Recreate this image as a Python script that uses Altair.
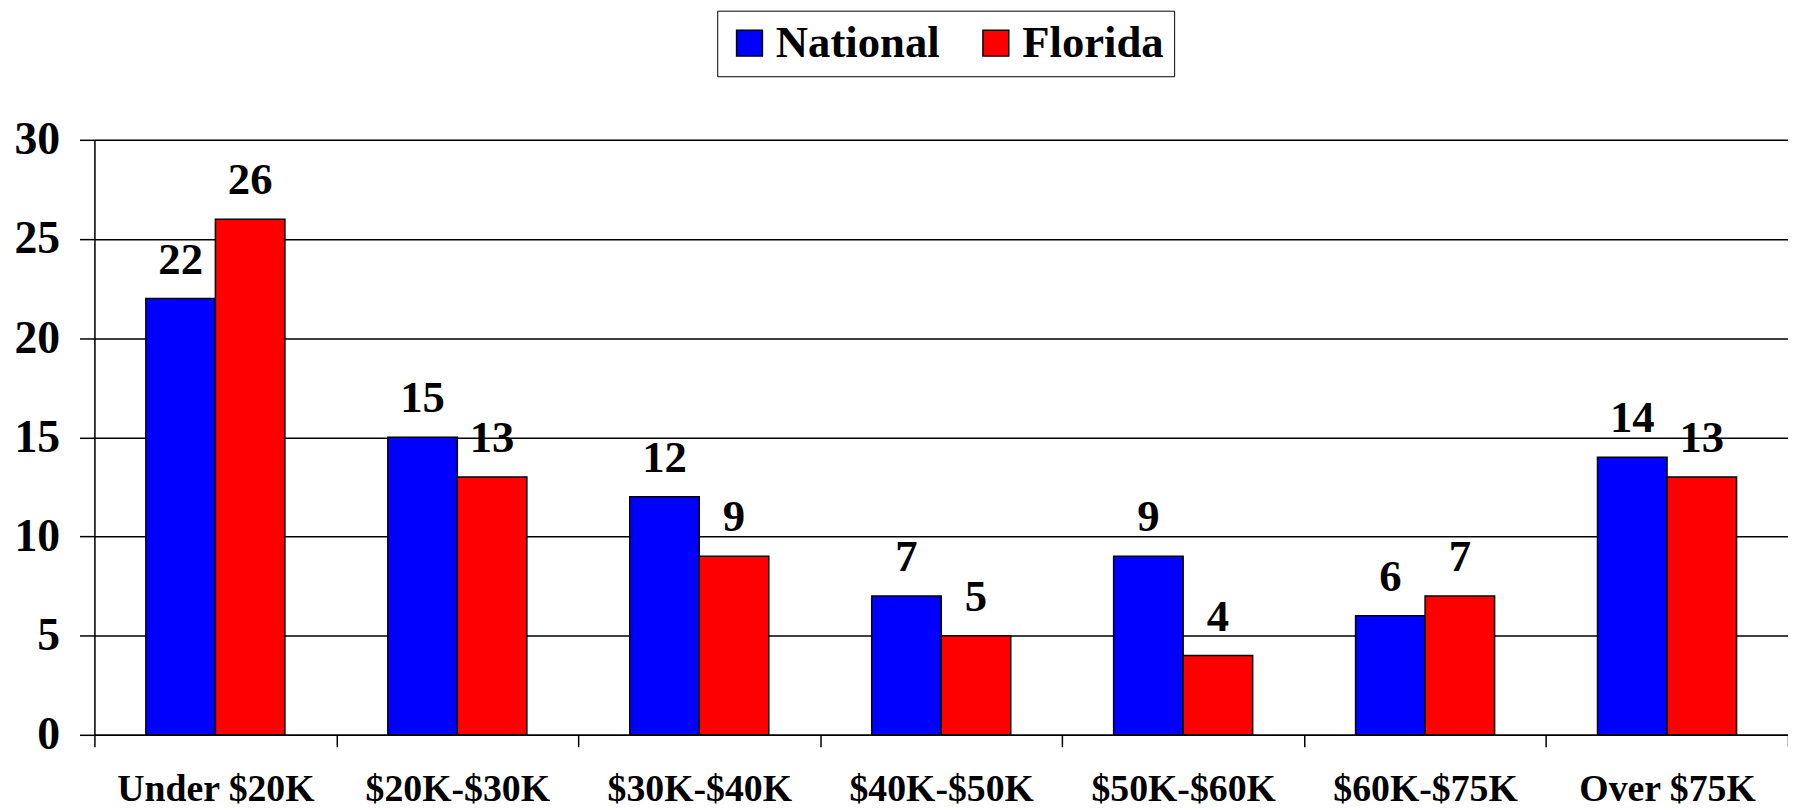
import altair as alt
import pandas as pd

categories = ["Under $20K", "$20K-$30K", "$30K-$40K", "$40K-$50K", "$50K-$60K", "$60K-$75K", "Over $75K"]
national = [22, 15, 12, 7, 9, 6, 14]
florida = [26, 13, 9, 5, 4, 7, 13]
series = ["National", "Florida"]
colors = ["#0000FF", "#FF0000"]

rows = []
for c, n, f in zip(categories, national, florida):
    rows.append({"cat": c, "series": "National", "value": n})
    rows.append({"cat": c, "series": "Florida", "value": f})
df = pd.DataFrame(rows)

FONT = "Liberation Serif"

x = alt.X("cat:N", sort=categories, title=None,
          scale=alt.Scale(paddingInner=0, paddingOuter=0),
          axis=alt.Axis(labelAngle=0, labelFont=FONT, labelFontSize=38, labelFontWeight="bold",
                        labelColor="black", tickBand="extent", tickSize=12, tickColor="black",
                        tickWidth=1.5, domainColor="black", domainWidth=1.5, labelLimit=0,
                        labelBaseline="alphabetic", labelPadding=54, grid=False))
xo = alt.XOffset("series:N", sort=series, scale=alt.Scale(paddingInner=0, paddingOuter=0.74))
y = alt.Y("value:Q", title=None,
          scale=alt.Scale(domain=[0, 30], nice=False),
          axis=alt.Axis(values=[0, 5, 10, 15, 20, 25, 30], labelFont=FONT, labelFontSize=46,
                        labelFontWeight="bold", labelColor="black", tickSize=15, tickColor="black",
                        tickWidth=1.5, domainColor="black", domainWidth=1.5, labelPadding=20,
                        grid=True, gridColor="black", gridWidth=1.5, gridOpacity=1))

color = alt.Color("series:N", sort=series, title=None,
                  scale=alt.Scale(domain=series, range=colors),
                  legend=alt.Legend(orient="none", legendX=627, legendY=-130, direction="horizontal",
                                    columns=2, symbolType="square", symbolSize=676,
                                    symbolStrokeColor="black", symbolStrokeWidth=1.5,
                                    labelFont=FONT, labelFontSize=45, labelFontWeight="bold",
                                    labelColor="black", labelOffset=4, columnPadding=33,
                                    labelLimit=0, strokeColor="black", fillColor="white",
                                    padding=10, symbolOpacity=1))

bars = alt.Chart(df).mark_bar(stroke="black", strokeWidth=1.5, opacity=1).encode(
    x=x, xOffset=xo, y=y, color=color)

labels = alt.Chart(df).mark_text(font=FONT, fontSize=45, fontWeight="bold", color="black",
                                 baseline="alphabetic", dy=-25).encode(
    x=alt.X("cat:N", sort=categories), xOffset=alt.XOffset("series:N", sort=series),
    y="value:Q", text="value:Q")

chart = alt.layer(bars, labels).properties(
    width=1705, height=599,
    autosize=alt.AutoSizeParams(type="none"),
    padding={"left": 87, "top": 130, "right": 0, "bottom": 72},
).configure_view(stroke=None).configure_legend(strokeWidth=1.5).configure(background="white")

chart.save("out.html", embed_options={"renderer": "svg", "actions": False})
